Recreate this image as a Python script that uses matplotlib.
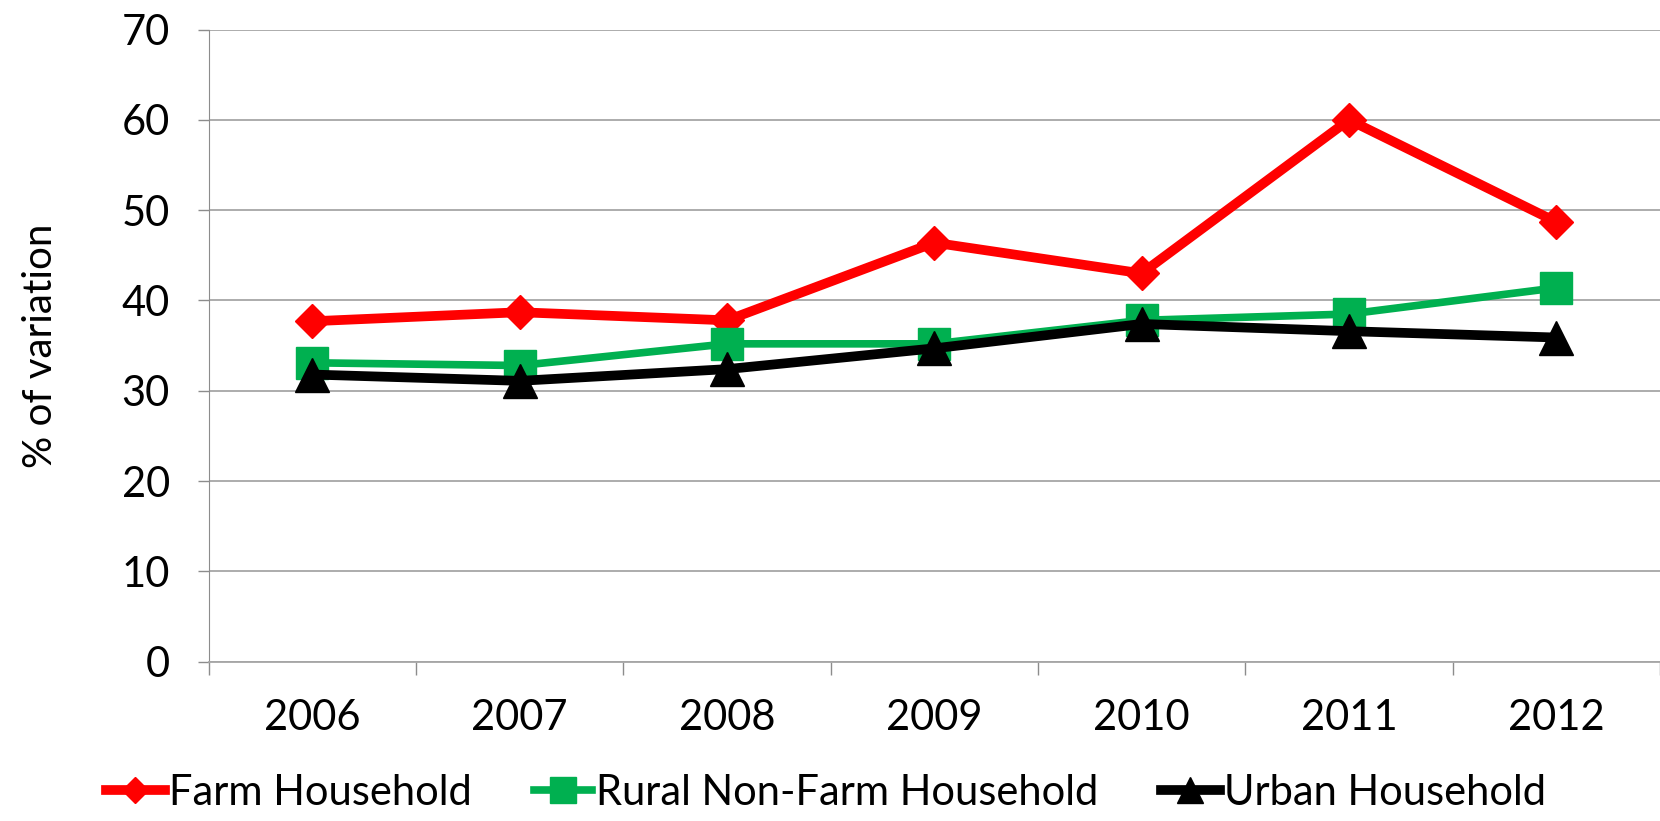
import matplotlib
matplotlib.use('Agg')
import matplotlib.pyplot as plt
import numpy as np

plt.rcParams['font.family'] = ['Lato', 'DejaVu Sans']

# Years on the category axis
years = ['2006', '2007', '2008', '2009', '2010', '2011', '2012']

# % of variation per household type
farm = [37.7, 38.7, 37.8, 46.4, 43.0, 60.0, 48.7]
rural_nonfarm = [33.1, 32.8, 35.2, 35.2, 37.8, 38.5, 41.4]
urban = [31.8, 31.1, 32.4, 34.7, 37.4, 36.6, 35.9]

y_ticks = [0, 10, 20, 30, 40, 50, 60, 70]

fig = plt.figure(figsize=(16.6, 8.21), dpi=100)
ax = fig.add_axes([0.1257, 0.194, 0.8743, 0.770])

x = np.arange(len(years))
ax.plot(x, farm, color='#FF0000', lw=7, marker='D', ms=17, label='Farm Household')
ax.plot(x, rural_nonfarm, color='#00B050', lw=5.5, marker='s', ms=23, label='Rural Non-Farm Household')
ax.plot(x, urban, color='#000000', lw=7, marker='^', ms=24, label='Urban Household')

ax.set_xlim(-0.5, len(years) - 0.5)
ax.set_ylim(0, 70)
ax.set_yticks(y_ticks)
ax.set_xticks(x)
ax.set_xticklabels(years)
# tick marks sit between the categories
ax.set_xticks(np.arange(len(years) + 1) - 0.5, minor=True)
ax.tick_params(axis='x', which='major', length=0, pad=27, labelsize=30)
ax.tick_params(axis='x', which='minor', length=9, width=1, color='#8C8C8C')
ax.tick_params(axis='y', length=8, width=1, color='#8C8C8C', pad=20, labelsize=30)

ax.grid(axis='y', color='#A6A6A6', lw=1.3)
ax.set_axisbelow(True)
for side in ['top', 'right']:
    ax.spines[side].set_visible(False)
ax.spines['left'].set_color('#8C8C8C')
ax.spines['bottom'].set_color('#A6A6A6')
ax.spines['bottom'].set_linewidth(1.3)

ax.set_ylabel('% of variation', fontsize=29, labelpad=20)
ax.yaxis.set_label_coords(-0.103, 0.5)

fig.legend(loc='center left', bbox_to_anchor=(0.064, 1 - 793 / 821), ncol=3,
           frameon=False, fontsize=30, handlelength=1.4, handletextpad=0.1,
           columnspacing=1.5, markerscale=0.8, borderaxespad=0, borderpad=0)

fig.savefig('out.png', dpi=100)
